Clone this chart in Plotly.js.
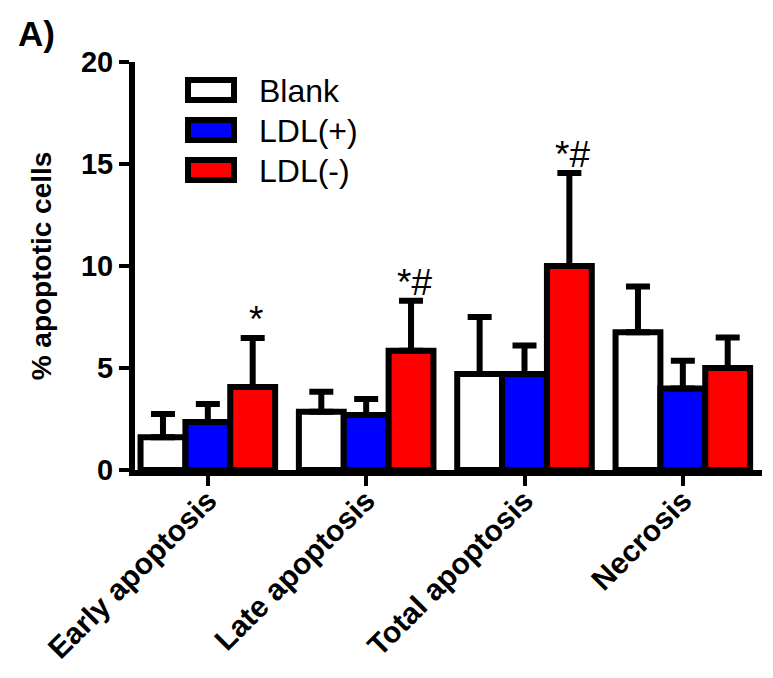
<!DOCTYPE html>
<html>
<head>
<meta charset="utf-8">
<script src="https://cdn.plot.ly/plotly-3.0.1.min.js"></script>
<style>html,body{margin:0;padding:0;background:#fff;}#chart{width:773px;height:678px;}</style>
</head>
<body>
<div id="chart"></div>
<script>
// ---- data ----
var categories = ["Early apoptosis", "Late apoptosis", "Total apoptosis", "Necrosis"];
var seriesNames = ["Blank", "LDL(+)", "LDL(-)"];
var blankMean = [1.6, 2.85, 4.7, 6.75];
var blankErr  = [1.15, 0.98, 2.8, 2.25];
var ldlPosMean = [2.35, 2.7, 4.7, 4.0];
var ldlPosErr  = [0.89, 0.78, 1.4, 1.35];
var ldlNegMean = [4.07, 5.85, 10.0, 5.0];
var ldlNegErr  = [2.4, 2.45, 4.56, 1.5];
var sigLabels = ["*", "*#", "*#", ""];
var yTicks = [0, 5, 10, 15, 20];

// ---- layout constants ----
var W = 773, H = 678;
var M = {l: 135, r: 11, t: 62, b: 208};
var bargap = 0.15;
var colors = ["#ffffff", "#0000ff", "#ff0000"];
var FONT = "Arial, 'Liberation Sans', sans-serif";

var means = [blankMean, ldlPosMean, ldlNegMean];
var errs = [blankErr, ldlPosErr, ldlNegErr];

var traces = means.map(function (m, k) {
  return {
    type: "bar",
    name: seriesNames[k],
    x: categories,
    y: m,
    marker: {color: colors[k], line: {color: "#000", width: 6}},
    error_y: {
      type: "data", symmetric: false, array: errs[k],
      arrayminus: m.map(function () { return 0; }),
      color: "#000", thickness: 6, width: 12
    },
    showlegend: false,
    hoverinfo: "x+y"
  };
});

// plot-area pixel helpers for legend placement
var pw = W - M.l - M.r, ph = H - M.t - M.b;
function px(x) { return (x - M.l) / pw; }
function py(y) { return (H - M.b - y) / ph; }

var shapes = [], annotations = [];
var legendRows = [90, 130, 170];
legendRows.forEach(function (cy, k) {
  shapes.push({
    type: "rect", xref: "paper", yref: "paper",
    x0: px(188), x1: px(234), y0: py(cy - 10), y1: py(cy + 10),
    fillcolor: colors[k], line: {color: "#000", width: 6}
  });
  annotations.push({
    xref: "paper", yref: "paper", x: px(257), y: py(cy + 1),
    xanchor: "left", yanchor: "middle", showarrow: false,
    text: seriesNames[k], font: {family: FONT, size: 32, color: "#000"}
  });
});

// significance markers above LDL(-) bars
var barW = (1 - bargap) / 3;
sigLabels.forEach(function (s, i) {
  if (!s) return;
  annotations.push({
    xref: "x", yref: "y", x: i + barW, y: ldlNegMean[i] + ldlNegErr[i],
    xanchor: "center", yanchor: "bottom", yshift: -4, xshift: 3, showarrow: false,
    text: s, font: {family: FONT, size: 37, color: "#000"}
  });
});

// panel label
annotations.push({
  xref: "paper", yref: "paper", x: px(16), y: py(33),
  xanchor: "left", yanchor: "middle", showarrow: false,
  text: "<b>A)</b>", font: {family: FONT, size: 35, color: "#000"}
});

var layout = {
  width: W, height: H,
  margin: M,
  paper_bgcolor: "#fff", plot_bgcolor: "#fff",
  barmode: "group", bargap: bargap, bargroupgap: 0,
  font: {family: FONT, color: "#000"},
  xaxis: {
    type: "category",
    range: [-0.46, 3.5],
    showline: true, linewidth: 6, linecolor: "#000",
    ticks: "outside", ticklen: 10, tickwidth: 4, tickcolor: "#000",
    tickangle: -45,
    ticklabelstandoff: -15,
    tickfont: {family: FONT, size: 30, color: "#000", weight: "bold"},
    showgrid: false, zeroline: false, fixedrange: true
  },
  yaxis: {
    range: [0, 20],
    tickvals: yTicks, ticktext: yTicks.map(String),
    showline: true, linewidth: 6, linecolor: "#000",
    ticks: "outside", ticklen: 10, tickwidth: 4, tickcolor: "#000",
    tickfont: {family: FONT, size: 29, color: "#000", weight: "bold"},
    title: {text: "<b>% apoptotic cells</b>", font: {family: FONT, size: 28, color: "#000"}, standoff: 23},
    showgrid: false, zeroline: false, fixedrange: true
  },
  shapes: shapes,
  annotations: annotations
};

Plotly.newPlot("chart", traces, layout, {displayModeBar: false, staticPlot: true});
</script>
</body>
</html>
